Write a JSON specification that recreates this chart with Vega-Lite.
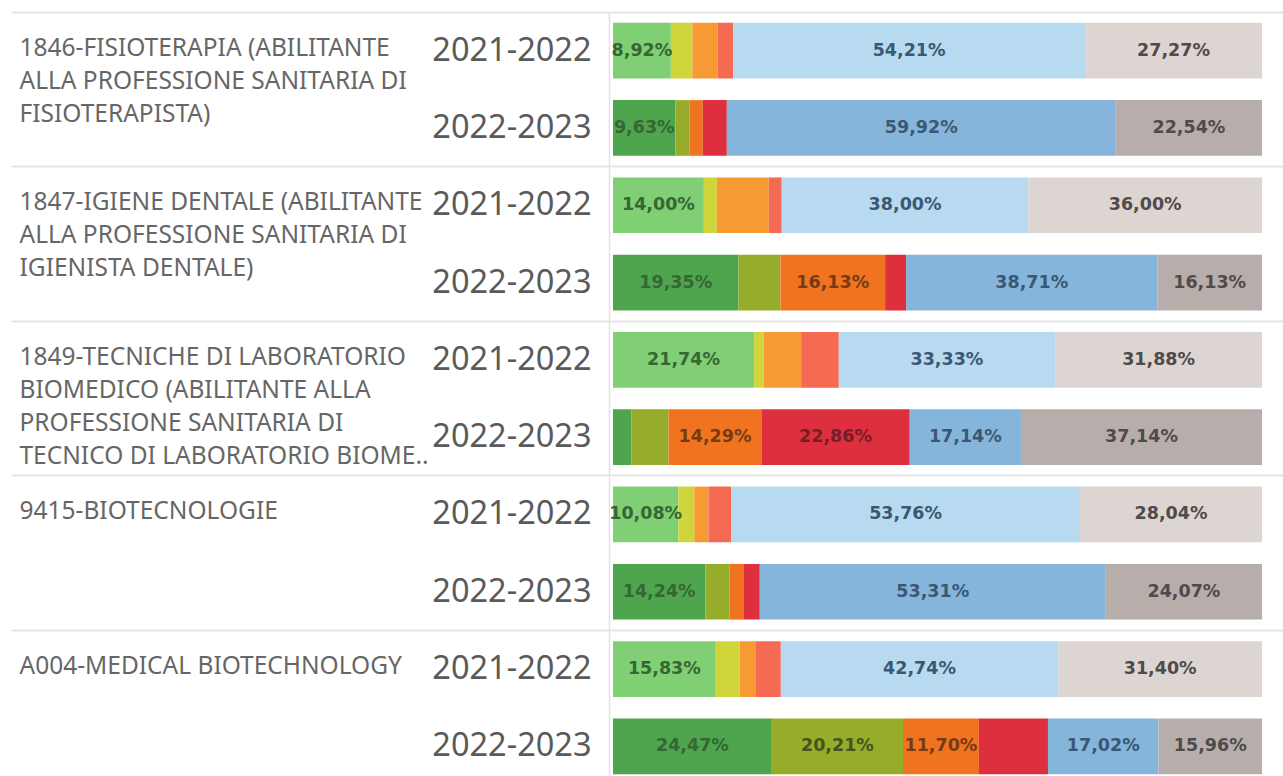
{
  "$schema": "https://vega.github.io/schema/vega-lite/v6.json",
  "autosize": {"type": "fit", "contains": "padding"},
  "width": 1283,
  "height": 776,
  "padding": {"left": 10, "top": 11, "right": 0, "bottom": 0},
  "background": "white",
  "config": {"font": "Noto Sans", "view": {"stroke": null}},
  "data": {"values": [
    {"course": "1846-FISIOTERAPIA (ABILITANTE|ALLA PROFESSIONE SANITARIA DI|FISIOTERAPISTA)", "year": "2021-2022", "cat": "C1", "pct": 8.92},
    {"course": "1846-FISIOTERAPIA (ABILITANTE|ALLA PROFESSIONE SANITARIA DI|FISIOTERAPISTA)", "year": "2021-2022", "cat": "C2", "pct": 3.3},
    {"course": "1846-FISIOTERAPIA (ABILITANTE|ALLA PROFESSIONE SANITARIA DI|FISIOTERAPISTA)", "year": "2021-2022", "cat": "C3", "pct": 3.9},
    {"course": "1846-FISIOTERAPIA (ABILITANTE|ALLA PROFESSIONE SANITARIA DI|FISIOTERAPISTA)", "year": "2021-2022", "cat": "C4", "pct": 2.4},
    {"course": "1846-FISIOTERAPIA (ABILITANTE|ALLA PROFESSIONE SANITARIA DI|FISIOTERAPISTA)", "year": "2021-2022", "cat": "C5", "pct": 54.21},
    {"course": "1846-FISIOTERAPIA (ABILITANTE|ALLA PROFESSIONE SANITARIA DI|FISIOTERAPISTA)", "year": "2021-2022", "cat": "C6", "pct": 27.27},
    {"course": "1846-FISIOTERAPIA (ABILITANTE|ALLA PROFESSIONE SANITARIA DI|FISIOTERAPISTA)", "year": "2022-2023", "cat": "C1", "pct": 9.63},
    {"course": "1846-FISIOTERAPIA (ABILITANTE|ALLA PROFESSIONE SANITARIA DI|FISIOTERAPISTA)", "year": "2022-2023", "cat": "C2", "pct": 2.2},
    {"course": "1846-FISIOTERAPIA (ABILITANTE|ALLA PROFESSIONE SANITARIA DI|FISIOTERAPISTA)", "year": "2022-2023", "cat": "C3", "pct": 2.0},
    {"course": "1846-FISIOTERAPIA (ABILITANTE|ALLA PROFESSIONE SANITARIA DI|FISIOTERAPISTA)", "year": "2022-2023", "cat": "C4", "pct": 3.71},
    {"course": "1846-FISIOTERAPIA (ABILITANTE|ALLA PROFESSIONE SANITARIA DI|FISIOTERAPISTA)", "year": "2022-2023", "cat": "C5", "pct": 59.92},
    {"course": "1846-FISIOTERAPIA (ABILITANTE|ALLA PROFESSIONE SANITARIA DI|FISIOTERAPISTA)", "year": "2022-2023", "cat": "C6", "pct": 22.54},
    {"course": "1847-IGIENE DENTALE (ABILITANTE|ALLA PROFESSIONE SANITARIA DI|IGIENISTA DENTALE)", "year": "2021-2022", "cat": "C1", "pct": 14.0},
    {"course": "1847-IGIENE DENTALE (ABILITANTE|ALLA PROFESSIONE SANITARIA DI|IGIENISTA DENTALE)", "year": "2021-2022", "cat": "C2", "pct": 2.0},
    {"course": "1847-IGIENE DENTALE (ABILITANTE|ALLA PROFESSIONE SANITARIA DI|IGIENISTA DENTALE)", "year": "2021-2022", "cat": "C3", "pct": 8.0},
    {"course": "1847-IGIENE DENTALE (ABILITANTE|ALLA PROFESSIONE SANITARIA DI|IGIENISTA DENTALE)", "year": "2021-2022", "cat": "C4", "pct": 2.0},
    {"course": "1847-IGIENE DENTALE (ABILITANTE|ALLA PROFESSIONE SANITARIA DI|IGIENISTA DENTALE)", "year": "2021-2022", "cat": "C5", "pct": 38.0},
    {"course": "1847-IGIENE DENTALE (ABILITANTE|ALLA PROFESSIONE SANITARIA DI|IGIENISTA DENTALE)", "year": "2021-2022", "cat": "C6", "pct": 36.0},
    {"course": "1847-IGIENE DENTALE (ABILITANTE|ALLA PROFESSIONE SANITARIA DI|IGIENISTA DENTALE)", "year": "2022-2023", "cat": "C1", "pct": 19.35},
    {"course": "1847-IGIENE DENTALE (ABILITANTE|ALLA PROFESSIONE SANITARIA DI|IGIENISTA DENTALE)", "year": "2022-2023", "cat": "C2", "pct": 6.45},
    {"course": "1847-IGIENE DENTALE (ABILITANTE|ALLA PROFESSIONE SANITARIA DI|IGIENISTA DENTALE)", "year": "2022-2023", "cat": "C3", "pct": 16.13},
    {"course": "1847-IGIENE DENTALE (ABILITANTE|ALLA PROFESSIONE SANITARIA DI|IGIENISTA DENTALE)", "year": "2022-2023", "cat": "C4", "pct": 3.23},
    {"course": "1847-IGIENE DENTALE (ABILITANTE|ALLA PROFESSIONE SANITARIA DI|IGIENISTA DENTALE)", "year": "2022-2023", "cat": "C5", "pct": 38.71},
    {"course": "1847-IGIENE DENTALE (ABILITANTE|ALLA PROFESSIONE SANITARIA DI|IGIENISTA DENTALE)", "year": "2022-2023", "cat": "C6", "pct": 16.13},
    {"course": "1849-TECNICHE DI LABORATORIO|BIOMEDICO (ABILITANTE ALLA|PROFESSIONE SANITARIA DI|TECNICO DI LABORATORIO BIOME..", "year": "2021-2022", "cat": "C1", "pct": 21.74},
    {"course": "1849-TECNICHE DI LABORATORIO|BIOMEDICO (ABILITANTE ALLA|PROFESSIONE SANITARIA DI|TECNICO DI LABORATORIO BIOME..", "year": "2021-2022", "cat": "C2", "pct": 1.45},
    {"course": "1849-TECNICHE DI LABORATORIO|BIOMEDICO (ABILITANTE ALLA|PROFESSIONE SANITARIA DI|TECNICO DI LABORATORIO BIOME..", "year": "2021-2022", "cat": "C3", "pct": 5.8},
    {"course": "1849-TECNICHE DI LABORATORIO|BIOMEDICO (ABILITANTE ALLA|PROFESSIONE SANITARIA DI|TECNICO DI LABORATORIO BIOME..", "year": "2021-2022", "cat": "C4", "pct": 5.8},
    {"course": "1849-TECNICHE DI LABORATORIO|BIOMEDICO (ABILITANTE ALLA|PROFESSIONE SANITARIA DI|TECNICO DI LABORATORIO BIOME..", "year": "2021-2022", "cat": "C5", "pct": 33.33},
    {"course": "1849-TECNICHE DI LABORATORIO|BIOMEDICO (ABILITANTE ALLA|PROFESSIONE SANITARIA DI|TECNICO DI LABORATORIO BIOME..", "year": "2021-2022", "cat": "C6", "pct": 31.88},
    {"course": "1849-TECNICHE DI LABORATORIO|BIOMEDICO (ABILITANTE ALLA|PROFESSIONE SANITARIA DI|TECNICO DI LABORATORIO BIOME..", "year": "2022-2023", "cat": "C1", "pct": 2.86},
    {"course": "1849-TECNICHE DI LABORATORIO|BIOMEDICO (ABILITANTE ALLA|PROFESSIONE SANITARIA DI|TECNICO DI LABORATORIO BIOME..", "year": "2022-2023", "cat": "C2", "pct": 5.71},
    {"course": "1849-TECNICHE DI LABORATORIO|BIOMEDICO (ABILITANTE ALLA|PROFESSIONE SANITARIA DI|TECNICO DI LABORATORIO BIOME..", "year": "2022-2023", "cat": "C3", "pct": 14.29},
    {"course": "1849-TECNICHE DI LABORATORIO|BIOMEDICO (ABILITANTE ALLA|PROFESSIONE SANITARIA DI|TECNICO DI LABORATORIO BIOME..", "year": "2022-2023", "cat": "C4", "pct": 22.86},
    {"course": "1849-TECNICHE DI LABORATORIO|BIOMEDICO (ABILITANTE ALLA|PROFESSIONE SANITARIA DI|TECNICO DI LABORATORIO BIOME..", "year": "2022-2023", "cat": "C5", "pct": 17.14},
    {"course": "1849-TECNICHE DI LABORATORIO|BIOMEDICO (ABILITANTE ALLA|PROFESSIONE SANITARIA DI|TECNICO DI LABORATORIO BIOME..", "year": "2022-2023", "cat": "C6", "pct": 37.14},
    {"course": "9415-BIOTECNOLOGIE", "year": "2021-2022", "cat": "C1", "pct": 10.08},
    {"course": "9415-BIOTECNOLOGIE", "year": "2021-2022", "cat": "C2", "pct": 2.45},
    {"course": "9415-BIOTECNOLOGIE", "year": "2021-2022", "cat": "C3", "pct": 2.18},
    {"course": "9415-BIOTECNOLOGIE", "year": "2021-2022", "cat": "C4", "pct": 3.49},
    {"course": "9415-BIOTECNOLOGIE", "year": "2021-2022", "cat": "C5", "pct": 53.76},
    {"course": "9415-BIOTECNOLOGIE", "year": "2021-2022", "cat": "C6", "pct": 28.04},
    {"course": "9415-BIOTECNOLOGIE", "year": "2022-2023", "cat": "C1", "pct": 14.24},
    {"course": "9415-BIOTECNOLOGIE", "year": "2022-2023", "cat": "C2", "pct": 3.7},
    {"course": "9415-BIOTECNOLOGIE", "year": "2022-2023", "cat": "C3", "pct": 2.15},
    {"course": "9415-BIOTECNOLOGIE", "year": "2022-2023", "cat": "C4", "pct": 2.53},
    {"course": "9415-BIOTECNOLOGIE", "year": "2022-2023", "cat": "C5", "pct": 53.31},
    {"course": "9415-BIOTECNOLOGIE", "year": "2022-2023", "cat": "C6", "pct": 24.07},
    {"course": "A004-MEDICAL BIOTECHNOLOGY", "year": "2021-2022", "cat": "C1", "pct": 15.83},
    {"course": "A004-MEDICAL BIOTECHNOLOGY", "year": "2021-2022", "cat": "C2", "pct": 3.7},
    {"course": "A004-MEDICAL BIOTECHNOLOGY", "year": "2021-2022", "cat": "C3", "pct": 2.5},
    {"course": "A004-MEDICAL BIOTECHNOLOGY", "year": "2021-2022", "cat": "C4", "pct": 3.83},
    {"course": "A004-MEDICAL BIOTECHNOLOGY", "year": "2021-2022", "cat": "C5", "pct": 42.74},
    {"course": "A004-MEDICAL BIOTECHNOLOGY", "year": "2021-2022", "cat": "C6", "pct": 31.4},
    {"course": "A004-MEDICAL BIOTECHNOLOGY", "year": "2022-2023", "cat": "C1", "pct": 24.47},
    {"course": "A004-MEDICAL BIOTECHNOLOGY", "year": "2022-2023", "cat": "C2", "pct": 20.21},
    {"course": "A004-MEDICAL BIOTECHNOLOGY", "year": "2022-2023", "cat": "C3", "pct": 11.7},
    {"course": "A004-MEDICAL BIOTECHNOLOGY", "year": "2022-2023", "cat": "C4", "pct": 10.64},
    {"course": "A004-MEDICAL BIOTECHNOLOGY", "year": "2022-2023", "cat": "C5", "pct": 17.02},
    {"course": "A004-MEDICAL BIOTECHNOLOGY", "year": "2022-2023", "cat": "C6", "pct": 15.96}
  ]},
  "transform": [
    {"calculate": "datum.course + '#' + datum.year", "as": "row"},
    {"stack": "pct", "groupby": ["row"], "sort": [{"field": "cat", "order": "ascending"}], "offset": "normalize", "as": ["x0", "x1"]},
    {"calculate": "(datum.x0 + datum.x1) / 2", "as": "xm"},
    {"calculate": "datum.year + ' ' + datum.cat", "as": "serie"},
    {"calculate": "replace(format(datum.pct, '.2f'), '.', ',') + '%'", "as": "label"}
  ],
  "layer": [
    {
      "mark": {"type": "bar", "height": {"band": 0.72}},
      "encoding": {
        "y": {
          "field": "row", "type": "nominal", "sort": "ascending",
          "scale": {"paddingInner": 0, "paddingOuter": 0, "range": [0, 773]},
          "axis": {
            "orient": "left",
            "title": null,
            "labelExpr": "split(datum.value, '#')[1]",
            "labelFont": "Noto Sans", "labelFontSize": 32.5, "labelColor": "#5a5a5a",
            "labelAlign": "right", "labelBaseline": "middle", "labelPadding": 18, "labelLimit": 400,
            "ticks": false, "grid": false,
            "domain": true, "domainColor": "#e2e2e2", "domainWidth": 1.5
          }
        },
        "x": {"field": "x0", "type": "quantitative", "scale": {"domain": [-0.00615, 1.0323], "nice": false, "zero": false}, "axis": null},
        "x2": {"field": "x1"},
        "color": {
          "field": "serie", "type": "nominal", "legend": null,
          "scale": {
            "domain": ["2021-2022 C1", "2021-2022 C2", "2021-2022 C3", "2021-2022 C4", "2021-2022 C5", "2021-2022 C6",
                       "2022-2023 C1", "2022-2023 C2", "2022-2023 C3", "2022-2023 C4", "2022-2023 C5", "2022-2023 C6"],
            "range": ["#80cf75", "#cfd63c", "#f89a34", "#f56a52", "#b7daf0", "#ddd5d2",
                      "#4ea54e", "#95ad2a", "#f0731f", "#de2f3f", "#86b5db", "#b7aeab"]
          }
        }
      }
    },
    {
      "mark": {"type": "text", "font": "DejaVu Sans", "fontSize": 17.5, "fontWeight": "bold"},
      "encoding": {
        "y": {
          "field": "row", "type": "nominal", "sort": "ascending",
          "axis": {
            "orient": "left",
            "title": null,
            "labelExpr": "split(datum.value, '#')[1] == '2021-2022' ? split(split(datum.value, '#')[0], '|') : ''",
            "bandPosition": 0,
            "labelOffset": 5,
            "labelAlign": "left", "labelBaseline": "alphabetic",
            "labelPadding": -8,
            "labelFont": "Noto Sans", "labelFontSize": 24.5, "labelColor": "#666666",
            "labelLineHeight": 33, "labelLimit": 600,
            "ticks": true, "tickSize": 598, "tickWidth": 2,
            "tickColor": {"condition": {"test": "indexof(datum.value, '2021-2022') >= 0", "value": "#e4e4e4"}, "value": "transparent"},
            "grid": true, "gridWidth": 2,
            "gridColor": {"condition": {"test": "indexof(datum.value, '2021-2022') >= 0", "value": "#e4e4e4"}, "value": "transparent"},
            "domain": false
          }
        },
        "x": {"field": "xm", "type": "quantitative"},
        "text": {"condition": {"test": "datum.pct >= 11 || (datum.cat == 'C1' && datum.pct >= 8)", "field": "label"}, "value": ""},
        "color": {
          "field": "cat", "type": "nominal", "legend": null,
          "scale": {"domain": ["C1", "C2", "C3", "C4", "C5", "C6"], "range": ["#356633", "#46521f", "#763a16", "#741f25", "#3b5873", "#504a4a"]}
        }
      }
    }
  ],
  "resolve": {"scale": {"color": "independent"}, "axis": {"y": "independent"}}
}
